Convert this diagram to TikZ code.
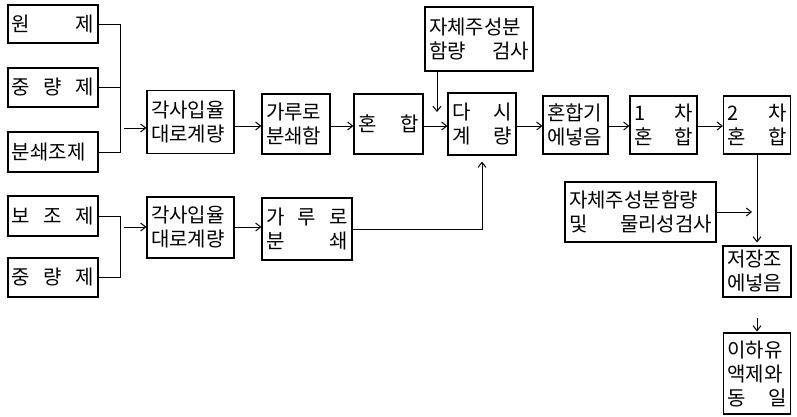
\documentclass[tikz,border=0pt]{standalone}
\usepackage{fontspec}
\setmainfont{Noto Sans CJK KR}
\usetikzlibrary{arrows.meta}
\newcommand{\mybox}[6]{\node[box, minimum width=#4pt, minimum height=#5pt] (#1) at (#2,#3) {\parbox{\dimexpr#4pt-8pt\relax}{#6}};}
\begin{document}
\begin{tikzpicture}[x=1pt,y=-1pt,
  box/.style={draw, line width=1.2pt, inner sep=0pt, font=\fontsize{20}{24}\selectfont},
  ln/.style={line width=1pt},
  arr/.style={line width=1pt, -{Straight Barb[length=5pt,width=8pt]}}]
\useasboundingbox (0,0) rectangle (797,416);
% input boxes
\mybox{a1}{53}{24}{90}{38}{원\hfill 제}
\mybox{a2}{53}{87.5}{90}{39}{중\hfill 량\hfill 제}
\mybox{a3}{53}{152}{90}{40}{분쇄조제}
\mybox{a4}{53}{216}{90}{40}{보\hfill 조\hfill 제}
\mybox{a5}{53}{277.5}{90}{39}{중\hfill 량\hfill 제}
% top row
\mybox{b1}{190.5}{122}{87}{63}{각사입율\\대로계량}
\mybox{c1}{296}{124}{68}{60}{가루로\\분쇄함}
\mybox{d}{388.5}{124}{69}{60}{혼\hfill 합}
\mybox{e}{482}{124}{68}{62}{다\hfill 시\\계\hfill 량}
\mybox{t}{479}{39}{108}{64}{자체주성분\\함량\hfill 검사}
\mybox{f}{575.5}{125}{65}{58}{혼합기\\에넣음}
\mybox{g}{663.5}{125}{67}{58}{1\hfill 차\\혼\hfill 합}
\mybox{h}{757}{125}{67}{58}{2\hfill 차\\혼\hfill 합}
% lower row
\mybox{b2}{190.5}{227.5}{87}{61}{각사입율\\대로계량}
\mybox{c2}{307}{229}{90}{62}{가\hfill 루\hfill 로\\분\hfill 쇄}
% right column
\mybox{i}{640.5}{212}{151}{60}{자체주성분함량\\및\hfill 물리성검사}
\mybox{j}{757}{271.5}{68}{51}{저장조\\에넣음}
\mybox{k}{757}{373.5}{67}{81}{이하유\\액제와\\동\hfill 일}
% brackets
\coordinate (J1) at (120,128);
\coordinate (J2) at (120,227);
\draw[ln] (a1.east) -- (a1.east -| J1) -- (a3.east -| J1) -- (a3.east);
\draw[ln] (a2.east) -- (a2.east -| J1);
\draw[ln] (a4.east) -- (a4.east -| J2) -- (a5.east -| J2) -- (a5.east);
\draw[arr, shorten <=4pt] (J1) -- (b1.west |- J1);
\draw[arr, shorten <=4pt] (J2) -- (b2.west |- J2);
% top chain
\coordinate (R1) at (0,126);
\draw[arr] (b1.east |- R1) -- (c1.west |- R1);
\draw[arr] (c1.east |- R1) -- (d.west |- R1);
\draw[arr] (d.east |- R1) -- (e.west |- R1);
\draw[arr] (e.east |- R1) -- (f.west |- R1);
\draw[arr] (f.east |- R1) -- (g.west |- R1);
\draw[arr] (g.east |- R1) -- (h.west |- R1);
\coordinate (T1) at (437,112);
\draw[arr] (t.south -| T1) -- (T1);
% lower chain
\draw[arr] (b2.east |- J2) -- (c2.west |- J2);
\draw[arr] (c2.east) -| ([yshift=-6pt]e.south);
% right column
\draw[arr] (h.south) -- ([yshift=3pt]j.north);
\draw[arr] (i.east) -- ([xshift=-5pt]i.east -| h.south);
\coordinate (K1) at (757,318);
\draw[arr] (K1) -- ([yshift=1pt]k.north);
\end{tikzpicture}
\end{document}
